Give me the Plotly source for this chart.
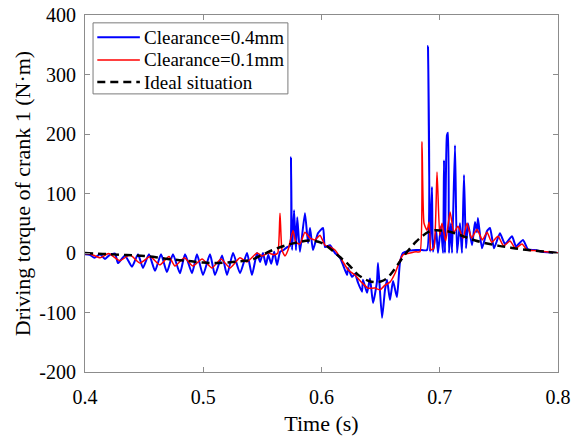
import plotly.graph_objects as go

# Driving torque of crank 1 for two joint clearances and the ideal joint
t_04 = [0.4000, 0.4040, 0.4080, 0.4127, 0.4169, 0.4210, 0.4254, 0.4279, 0.4338, 0.4397,
        0.4448, 0.4490, 0.4541, 0.4592, 0.4643, 0.4693, 0.4744, 0.4803, 0.4846, 0.4905,
        0.4947, 0.4998, 0.5057, 0.5099, 0.5159, 0.5201, 0.5252, 0.5311, 0.5370, 0.5412,
        0.5455, 0.5480, 0.5505, 0.5530, 0.5550, 0.5575, 0.5600, 0.5624, 0.5650, 0.5680,
        0.5710, 0.5734, 0.5742, 0.5751, 0.5768, 0.5784, 0.5795, 0.5818, 0.5860, 0.5886,
        0.5903, 0.5928, 0.5970, 0.6013, 0.6030, 0.6072, 0.6114, 0.6156, 0.6182, 0.6216,
        0.6224, 0.6258, 0.6283, 0.6309, 0.6342, 0.6351, 0.6385, 0.6410, 0.6436, 0.6469,
        0.6478, 0.6512, 0.6537, 0.6554, 0.6579, 0.6605, 0.6638, 0.6664, 0.6689, 0.6706,
        0.6750, 0.6800, 0.6850, 0.6892, 0.6901, 0.6918, 0.6934, 0.6943, 0.6970, 0.6985,
        0.7010, 0.7028, 0.7036, 0.7044, 0.7061, 0.7070, 0.7078, 0.7095, 0.7104, 0.7129,
        0.7146, 0.7171, 0.7188, 0.7205, 0.7222, 0.7239, 0.7273, 0.7298, 0.7315, 0.7323,
        0.7357, 0.7400, 0.7425, 0.7459, 0.7509, 0.7552, 0.7611, 0.7645, 0.7704, 0.7746,
        0.7805, 0.7865, 0.8000]
torque_04 = [-2, -3, -8, -2, -10, -3, -1, -17, -4, -23,
             -2, -25, -2, -30, -2, -32, -2, -34, -2, -34,
             -2, -37, -2, -37, -4, -37, 0, -34, 0, -37,
             0, -15, 0, -20, -3, -18, 2, -20, 2, 5,
             10, 12, 161, 5, 72, 5, 60, 2, 67, 17,
             42, 5, 33, 42, 10, 13, 0, -8, -20, -37,
             -25, -40, -35, -50, -65, -45, -67, -43, -84, -48,
             -17, -109, -62, -45, -79, -47, -74, -15, 0, 2,
             4, 5, 5, 5, 348, 2, 111, 2, 38, 0,
             45, 0, 156, 0, 198, 202, 0, 50, 0, 181,
             0, 50, 0, 131, 8, 50, 13, 52, 35, 59,
             8, 37, 42, 8, 33, 15, 28, 11, 22, 6,
             5, 2, 0]

t_01 = [0.4000, 0.4050, 0.4127, 0.4200, 0.4296, 0.4380, 0.4465, 0.4550, 0.4634, 0.4710,
        0.4761, 0.4840, 0.4913, 0.4990, 0.5074, 0.5150, 0.5226, 0.5310, 0.5370, 0.5455,
        0.5500, 0.5550, 0.5600, 0.5630, 0.5649, 0.5666, 0.5691, 0.5717, 0.5759, 0.5784,
        0.5818, 0.5860, 0.5903, 0.5945, 0.5987, 0.6030, 0.6072, 0.6114, 0.6173, 0.6224,
        0.6283, 0.6342, 0.6393, 0.6452, 0.6495, 0.6537, 0.6579, 0.6622, 0.6664, 0.6689,
        0.6750, 0.6800, 0.6833, 0.6850, 0.6867, 0.6892, 0.6910, 0.6926, 0.6950, 0.6977,
        0.7000, 0.7019, 0.7050, 0.7087, 0.7120, 0.7154, 0.7197, 0.7230, 0.7270, 0.7315,
        0.7360, 0.7400, 0.7440, 0.7493, 0.7540, 0.7594, 0.7640, 0.7696, 0.7740, 0.7800,
        0.7900, 0.8000]
torque_01 = [-1, -2, -8, -1, -13, -3, -17, -6, -20, -6,
             -22, -8, -22, -10, -25, -10, -25, -8, -15, 0,
             -5, 0, -3, 0, 67, 5, -5, 5, 38, 18,
             15, 35, 25, 22, 30, 13, 10, 5, -12, -28,
             -37, -50, -59, -59, -62, -54, -49, -34, -12, -3,
             0, 2, 2, 187, 50, 38, 52, 5, 8, 136,
             30, 50, 20, 69, 35, 45, 25, 50, 25, 40,
             22, 35, 18, 28, 12, 20, 8, 15, 5, 4,
             2, 0]

t_ideal = [0.400, 0.410, 0.420, 0.430, 0.440, 0.450, 0.460, 0.470, 0.480, 0.490,
           0.500, 0.510, 0.520, 0.530, 0.540, 0.550, 0.560, 0.570, 0.580, 0.590,
           0.600, 0.605, 0.610, 0.615, 0.620, 0.625, 0.630, 0.635, 0.640, 0.645,
           0.650, 0.655, 0.660, 0.665, 0.670, 0.675, 0.680, 0.685, 0.690, 0.695,
           0.700, 0.710, 0.720, 0.730, 0.740, 0.750, 0.760, 0.770, 0.780, 0.790,
           0.800]
torque_ideal = [0, -1, -2, -3, -4, -5, -7, -10, -12, -14,
                -16, -17, -16, -14, -12, -3, 6, 13, 18, 21,
                17, 11, 3, -6, -14, -24, -35, -42, -47, -49,
                -48, -43, -32, -18, -4, 8, 19, 28, 35, 38,
                38, 35, 28, 21, 16, 12, 9, 6, 4, 2,
                0]

x_ticks = [0.4, 0.5, 0.6, 0.7, 0.8]
x_tick_text = ["0.4", "0.5", "0.6", "0.7", "0.8"]
y_ticks = [-200, -100, 0, 100, 200, 300, 400]
y_tick_text = ["-200", "-100", "0", "100", "200", "300", "400"]

serif = "Liberation Serif"
axis_grey = "#8c8c8c"

series = [
    dict(x=t_04, y=torque_04, name="Clearance=0.4mm",
         line=dict(color="#0000ff", width=2, shape="spline", smoothing=0.5)),
    dict(x=t_01, y=torque_01, name="Clearance=0.1mm",
         line=dict(color="#ff0000", width=1.5, shape="spline", smoothing=0.5)),
    dict(x=t_ideal, y=torque_ideal, name="Ideal situation",
         line=dict(color="black", width=2.5, dash="8px,5px", shape="spline")),
]

fig = go.Figure()
for s in series:
    fig.add_trace(go.Scatter(x=s["x"], y=s["y"], mode="lines", name=s["name"],
                             line=s["line"], showlegend=False))

# Boxed key in the upper left corner of the axes
box_x0, box_x1, box_y0, box_y1 = 0.017, 0.429, 0.779, 0.978
row_y = [0.938, 0.874, 0.812]
sample_x0, sample_x1, label_x = 0.026, 0.116, 0.121
shapes = [dict(type="rect", xref="paper", yref="paper", x0=box_x0, x1=box_x1,
               y0=box_y0, y1=box_y1, line=dict(color="#7a7a7a", width=1),
               fillcolor="white", layer="above")]
annotations = []
for s, ry in zip(series, row_y):
    ln = s["line"]
    shapes.append(dict(type="line", xref="paper", yref="paper", x0=sample_x0, x1=sample_x1,
                       y0=ry, y1=ry, layer="above",
                       line=dict(color=ln["color"], width=ln["width"],
                                 dash=ln.get("dash", "solid"))))
    annotations.append(dict(xref="paper", yref="paper", x=label_x, y=ry, text=s["name"],
                            showarrow=False, xanchor="left", yanchor="middle",
                            font=dict(family=serif, size=19, color="black")))

axis_common = dict(showline=True, linecolor=axis_grey, linewidth=1.2, mirror="ticks",
                   ticks="inside", ticklen=5, tickcolor=axis_grey, tickwidth=1,
                   showgrid=False, zeroline=False, automargin=False,
                   tickfont=dict(family=serif, size=20, color="black"))

fig.update_layout(
    width=584, height=436,
    margin=dict(l=85, r=26, t=15, b=64),
    plot_bgcolor="white", paper_bgcolor="white",
    shapes=shapes, annotations=annotations,
    xaxis=dict(range=[0.4, 0.8], tickvals=x_ticks, ticktext=x_tick_text,
               ticklabelstandoff=7,
               title=dict(text="Time (s)", font=dict(family=serif, size=22, color="black"),
                          standoff=10),
               **axis_common),
    yaxis=dict(range=[-200, 400], tickvals=y_ticks, ticktext=y_tick_text,
               ticklabelstandoff=4,
               title=dict(text="Driving torque of crank 1 (N\u00b7m)",
                          font=dict(family=serif, size=22, color="black"), standoff=2),
               **axis_common),
)

fig.write_html("out.html")
